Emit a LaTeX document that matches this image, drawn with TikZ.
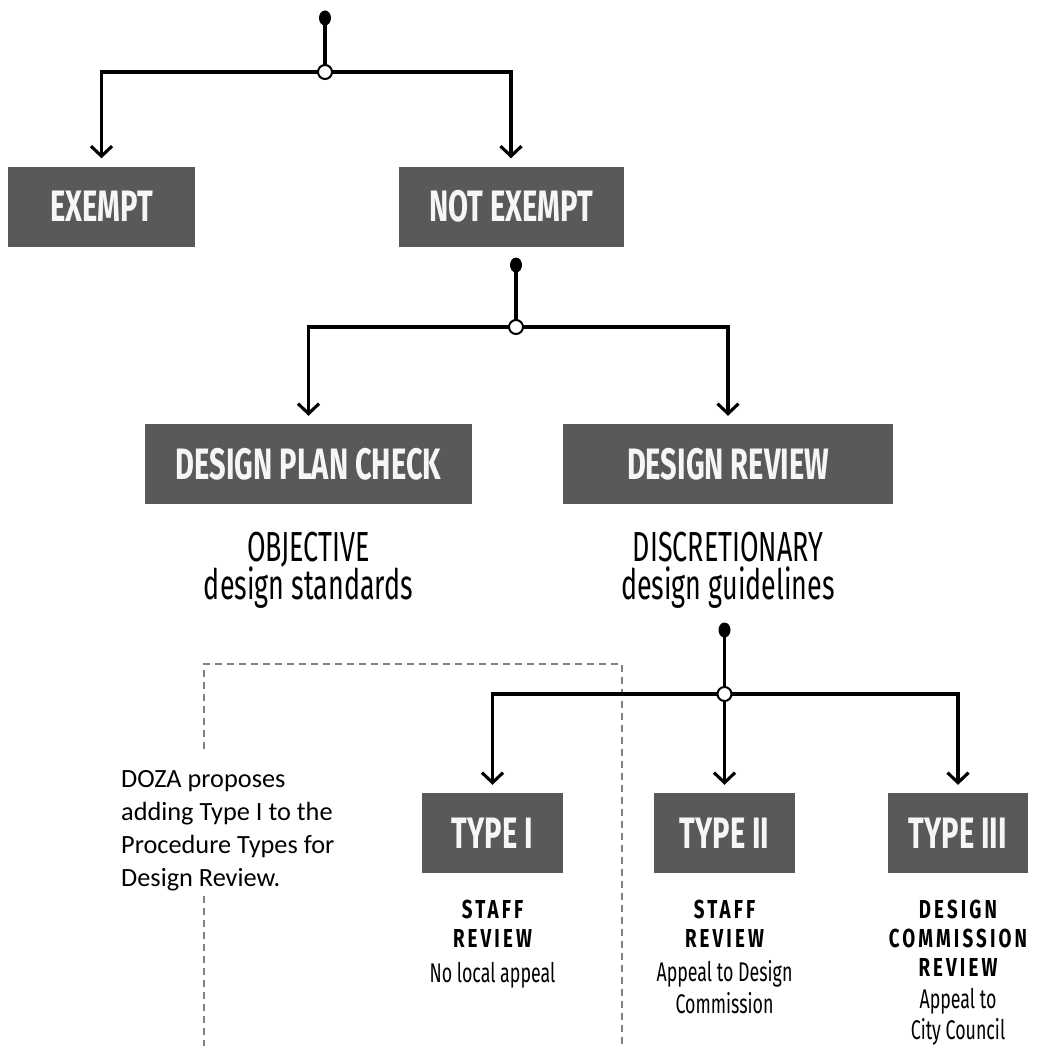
\documentclass[tikz,border=0pt]{standalone}
\usepackage{fontspec}
\setmainfont{Carlito}
\newfontfamily\condfont[FakeStretch=0.66]{Fira Sans}
\newfontfamily\lightfont[FakeStretch=0.64]{Fira Sans}
\newfontfamily\descfont[FakeStretch=0.66]{Fira Sans}
\newfontfamily\headfont[FakeStretch=0.72,LetterSpace=12]{Fira Sans}
\usetikzlibrary{arrows.meta,shapes.geometric}
\pgfdeclarelayer{bg}
\pgfsetlayers{bg,main}
\definecolor{boxgray}{RGB}{89,89,91}
\definecolor{boxtext}{RGB}{246,246,246}
\definecolor{dashgray}{RGB}{128,128,128}
\begin{document}
\begin{tikzpicture}[x=1pt,y=-1pt,
  box/.style={fill=boxgray, draw=none, text=boxtext, font=\condfont\bfseries\fontsize{44}{44}\selectfont, minimum height=80pt, inner sep=0pt},
  dotnode/.style={ellipse, fill=black, draw=none, minimum width=12pt, minimum height=15pt, inner sep=0pt},
  junction/.style={circle, draw=black, fill=white, line width=2pt, minimum size=14pt, inner sep=0pt},
  conn/.style={line width=3.1pt, draw=black},
  arr/.style={conn, -{Straight Barb[length=10pt,width=21pt]}, shorten >=8pt},
  dashline/.style={draw=dashgray, line width=1.4pt, dash pattern=on 7pt off 5pt},
  sub/.style={font=\lightfont\fontsize{42}{42}\selectfont, anchor=base, inner sep=0pt},
  head/.style={font=\headfont\bfseries\fontsize{26}{26}\selectfont, anchor=base, inner sep=0pt},
  desc/.style={font=\descfont\fontsize{27}{27}\selectfont, anchor=base, inner sep=0pt},
  note/.style={font=\fontsize{26.3}{33}\selectfont, align=left, anchor=north west, inner sep=0pt}
]
\useasboundingbox (0,0) rectangle (1036,1046);

% boxes
\node[box, minimum width=187pt] (ex) at (101.5,206.5) {EXEMPT};
\node[box, minimum width=225pt] (ne) at (511,206.5) {NOT EXEMPT};
\node[box, minimum width=327pt] (dpc) at (308.5,464) {DESIGN PLAN CHECK};
\node[box, minimum width=330pt] (dr) at (728,464) {DESIGN REVIEW};
\node[box, minimum width=141pt] (t1) at (492.5,833) {TYPE I};
\node[box, minimum width=141pt] (t2) at (724.5,833) {TYPE II};
\node[box, minimum width=140pt] (t3) at (958,833) {TYPE III};

% junctions
\node[dotnode] (d1) at (325,18) {};
\node[junction] (j1) at (325,72) {};
\node[dotnode] (d2) at (516,265) {};
\node[junction] (j2) at (516,327) {};
\node[dotnode] (d3) at (724.5,630) {};
\node[junction] (j3) at (724.5,694) {};

% subtitles
\node[sub] (objA) at (308.5,561) {OBJECTIVE};
\node[sub] (objB) at (308.5,599) {design standards};
\node[sub] (disA) at (728,561) {DISCRETIONARY};
\node[sub] (disB) at (728,599) {design guidelines};

% type labels
\node[head] (h1a) at (492.5,918) {STAFF};
\node[head] (h1b) at (492.5,947) {REVIEW};
\node[desc] (s1a) at (492.5,982) {No local appeal};

\node[head] (h2a) at (724.5,918) {STAFF};
\node[head] (h2b) at (724.5,947) {REVIEW};
\node[desc] (s2a) at (724.5,981) {Appeal to Design};
\node[desc] (s2b) at (724.5,1013) {Commission};

\node[head] (h3a) at (958,918) {DESIGN};
\node[head] (h3b) at (958,947) {COMMISSION};
\node[head] (h3c) at (958,976) {REVIEW};
\node[desc] (s3a) at (958,1008) {Appeal to};
\node[desc] (s3b) at (958,1039) {City Council};

% note
\node[note] (nt) at (121,770) {DOZA proposes\\adding Type I to the\\Procedure Types for\\Design Review.};

\begin{pgfonlayer}{bg}
  \draw[dashline] (204,749) -- (204,664) -- (622,664) -- (622,1050);
  \draw[dashline] (204,896) -- (204,1050);
  \draw[conn] (d1.center) -- (j1.center);
  \draw[arr] (j1.center) -| (ex.north);
  \draw[arr] (j1.center) -| (ne.north);
  \draw[conn] (d2.center) -- (j2.center);
  \draw[arr] (j2.center) -| (dpc.north);
  \draw[arr] (j2.center) -| (dr.north);
  \draw[conn] (d3.center) -- (j3.center);
  \draw[arr] (j3.center) -| (t1.north);
  \draw[arr] (j3.center) -- (t2.north);
  \draw[arr] (j3.center) -| (t3.north);
\end{pgfonlayer}
\end{tikzpicture}
\end{document}
